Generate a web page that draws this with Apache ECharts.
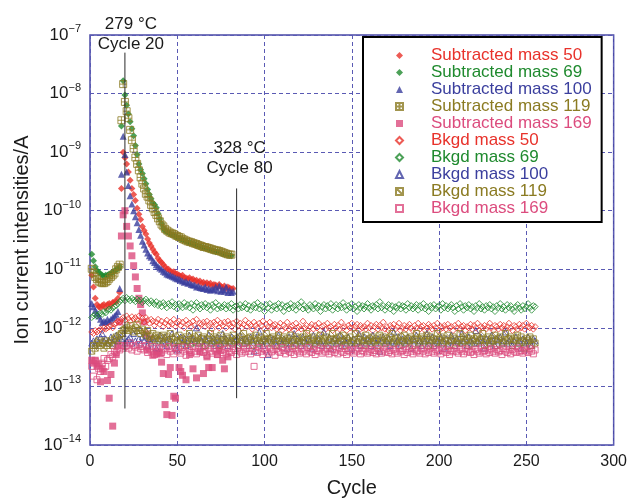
<!DOCTYPE html>
<html><head><meta charset="utf-8">
<script src="https://cdn.jsdelivr.net/npm/echarts@6/dist/echarts.min.js"></script>
<style>html,body{margin:0;padding:0;background:#fff}#c{width:630px;height:503px}</style>
</head><body><div id="c"></div>
<script>
// ---------- DATA ----------
const xTicks = [0, 50, 100, 150, 200, 250, 300];
const yDecades = [-14, -13, -12, -11, -10, -9, -8, -7];
const seriesNames = ['Subtracted mass 50','Subtracted mass 69','Subtracted mass 100','Subtracted mass 119','Subtracted mass 169',
  'Bkgd mass 50','Bkgd mass 69','Bkgd mass 100','Bkgd mass 119','Bkgd mass 169'];
const subFirstCycle = 1;   // subtracted series: cycle of first value (A)
const bkgdFirstCycle = 1;  // background series: cycle of first value (pA)

const sub50 = [7.9e-12,5.0e-12,3.2e-12,2.5e-12,2.3e-12,2.2e-12,2.4e-12,2.5e-12,2.2e-12,2.5e-12,
 2.6e-12,2.4e-12,2.7e-12,2.8e-12,2.8e-12,3.2e-12,4.0e-12,2.4e-10,1.0e-9,8.0e-10,
 6.3e-10,4.6e-10,3.3e-10,2.4e-10,1.9e-10,1.5e-10,1.1e-10,8.7e-11,7.1e-11,5.4e-11,
 4.6e-11,4.0e-11,3.3e-11,2.8e-11,2.5e-11,2.2e-11,1.95e-11,1.8e-11,1.55e-11,1.4e-11,
 1.3e-11,1.2e-11,1.1e-11,1.0e-11,1.0e-11,9.3e-12,8.9e-12,9.1e-12,8.3e-12,8.3e-12,
 7.9e-12,7.6e-12,7.9e-12,7.2e-12,7.1e-12,6.9e-12,7.2e-12,6.6e-12,6.8e-12,6.3e-12,
 6.5e-12,6.0e-12,6.3e-12,5.8e-12,6.0e-12,5.6e-12,5.9e-12,5.5e-12,5.8e-12,5.2e-12,
 5.5e-12,5.4e-12,5.0e-12,5.5e-12,5.1e-12,4.9e-12,5.2e-12,4.7e-12,5.0e-12,4.8e-12,
 4.6e-12,4.7e-12];
const sub69 = [1.8e-11,1.4e-11,1.1e-11,9.5e-12,8.9e-12,8.3e-12,7.9e-12,7.6e-12,7.9e-12,7.9e-12,
 8.3e-12,8.5e-12,8.9e-12,9.3e-12,1.0e-11,1.02e-11,1.1e-11,2.8e-9,1.66e-8,9.5e-9,
 6.3e-9,4.5e-9,3.3e-9,2.5e-9,1.9e-9,1.3e-9,9.1e-10,6.3e-10,5.0e-10,4.3e-10,
 3.5e-10,2.9e-10,2.3e-10,1.9e-10,1.6e-10,1.35e-10,1.26e-10,1.12e-10,8.9e-11,7.2e-11,
 6.0e-11,5.0e-11,4.5e-11,4.4e-11,4.2e-11,4.0e-11,3.9e-11,3.8e-11,3.6e-11,3.5e-11,
 3.4e-11,3.3e-11,3.2e-11,3.1e-11,3.0e-11,2.9e-11,2.85e-11,2.8e-11,2.7e-11,2.65e-11,
 2.6e-11,2.5e-11,2.45e-11,2.4e-11,2.3e-11,2.3e-11,2.25e-11,2.2e-11,2.15e-11,2.1e-11,
 2.05e-11,2.0e-11,2.0e-11,1.95e-11,1.9e-11,1.85e-11,1.8e-11,1.78e-11,1.74e-11,1.72e-11,1.7e-11];
const sub100 = [2.6e-12,2.3e-12,2.0e-12,1.8e-12,1.6e-12,1.4e-12,1.23e-12,1.3e-12,1.26e-12,1.4e-12,
 1.3e-12,1.4e-12,1.5e-12,1.6e-12,1.7e-12,1.9e-12,4.7e-12,4.2e-10,1.86e-9,9.1e-10,
 4.6e-10,2.7e-10,1.8e-10,1.3e-10,1.0e-10,7.9e-11,6.2e-11,4.8e-11,3.8e-11,3.0e-11,
 2.6e-11,2.2e-11,1.9e-11,1.7e-11,1.6e-11,1.4e-11,1.3e-11,1.2e-11,1.12e-11,1.05e-11,
 1.0e-11,9.3e-12,8.9e-12,8.3e-12,8.1e-12,7.9e-12,7.6e-12,7.4e-12,7.1e-12,6.9e-12,
 6.8e-12,6.5e-12,6.3e-12,6.0e-12,6.2e-12,5.8e-12,5.9e-12,5.5e-12,5.4e-12,5.4e-12,
 5.0e-12,5.2e-12,4.9e-12,4.8e-12,4.7e-12,5.0e-12,4.5e-12,4.7e-12,4.4e-12,4.6e-12,
 4.5e-12,5.0e-12,4.3e-12,5.2e-12,4.2e-12,4.5e-12,4.2e-12,5.0e-12,4.0e-12,4.4e-12,
 4.0e-12,4.2e-12];
const sub119 = [1.02e-11,8.7e-12,7.4e-12,6.8e-12,6.2e-12,6.0e-12,5.8e-12,5.8e-12,6.0e-12,6.3e-12,
 6.9e-12,7.4e-12,7.9e-12,8.5e-12,1.0e-11,1.1e-11,1.2e-11,3.5e-9,1.45e-8,7.2e-9,
 5.0e-9,3.8e-9,2.4e-9,1.6e-9,1.15e-9,8.1e-10,6.3e-10,4.9e-10,3.7e-10,2.9e-10,
 2.4e-10,1.95e-10,1.74e-10,1.5e-10,1.26e-10,1.1e-10,9.5e-11,8.5e-11,7.4e-11,6.6e-11,
 5.8e-11,5.4e-11,4.9e-11,4.6e-11,4.4e-11,4.2e-11,4.1e-11,4.0e-11,3.8e-11,3.7e-11,
 3.55e-11,3.5e-11,3.3e-11,3.2e-11,3.1e-11,3.0e-11,2.95e-11,2.9e-11,2.8e-11,2.75e-11,
 2.7e-11,2.6e-11,2.55e-11,2.5e-11,2.4e-11,2.4e-11,2.35e-11,2.3e-11,2.25e-11,2.2e-11,
 2.15e-11,2.1e-11,2.1e-11,2.05e-11,2.0e-11,1.95e-11,1.9e-11,1.85e-11,1.8e-11,1.78e-11,1.78e-11];
const sub169 = [2.8e-13,2.5e-13,2.8e-13,2.2e-13,2.4e-13,1.2e-13,2.0e-13,1.8e-13,null,1.26e-13,
 6.3e-14,1.6e-13,2.1e-14,2.5e-13,3.5e-13,5.0e-13,1.26e-12,3.7e-11,8.5e-11,1.0e-10,
 5.4e-11,3.7e-11,2.5e-11,1.7e-11,1.15e-11,7.4e-12,4.7e-12,3.2e-12,2.5e-12,1.8e-12,
 1.26e-12,7.9e-13,4.2e-13,6.5e-13,null,3.4e-13,null,3.6e-13,3.9e-13,3.6e-13,
 2.6e-13,1.66e-13,4.9e-14,3.3e-14,1.6e-13,2.1e-13,3.2e-14,6.8e-14,6.3e-14,null,
 2.1e-13,1.8e-13,1.55e-13,null,1.3e-13,null,3.5e-13,null,2.0e-13,null,
 1.4e-13,null,3.9e-13,null,1.66e-13,null,3.2e-13,2.1e-13,null,2.1e-13,
 null,null,3.5e-13,4.2e-13,null,2.8e-13,2.0e-13,null,3.2e-13,null];

// background series in pA (1e-12 A)
const bkgd50 = [0.85,0.8,0.9,0.85,0.9,0.95,0.9,1.0,0.95,1.0,1.05,1.1,1.0,1.15,1.2,
 1.3,1.25,1.4,1.5,1.35,1.6,1.45,1.3,1.55,1.4,1.5,1.35,1.6,1.3,1.45,1.25,1.5,1.35,1.2,1.4,
 1.3,1.1,1.25,1.4,1.15,1.3,1.05,1.2,1.35,1.1, 1.25,1.15,1.4,1.05,1.2,1.3,1.1,1.25,1.0,1.35,
 1.15,1.2,1.05,1.3,1.1,1.4,1.0,1.2,1.15,1.25, 1.05,1.3,1.1,1.2,0.95,1.25,1.15,1.35,1.0,1.2,
 1.1,1.25,1.0,1.3,1.15,1.05,1.2,0.95,1.3,1.1, 1.2,1.0,1.15,1.35,1.05,1.2,1.1,0.95,1.25,1.1,
 1.0,1.2,1.1,1.3,0.95,1.15,1.05,1.25,1.0,1.1, 1.15,0.95,1.05,1.2,0.9,1.1,1.0,1.25,0.95,1.05,
 1.1,0.9,1.2,1.0,1.05,0.95,1.3,1.0,1.1,0.9, 1.05,1.15,0.95,1.1,1.0,1.2,0.9,1.05,1.1,0.95,
 1.2,1.0,1.05,0.9,1.15,1.0,1.1,0.95,1.25,1.0, 1.05,0.9,1.1,1.0,1.2,0.95,1.05,1.15,0.9,1.1,
 1.0,1.05,0.95,1.2,1.0,1.1,0.9,1.05,1.15,0.95, 1.1,1.0,1.25,0.95,1.05,0.9,1.1,1.0,1.15,0.95,
 1.05,1.2,0.9,1.0,1.1,0.95,1.05,1.15,1.0,0.9, 1.1,1.0,1.2,0.95,1.05,1.1,0.9,1.0,1.15,1.05,
 0.95,1.1,1.0,1.2,0.9,1.05,1.0,1.1,0.95,1.15, 1.0,1.05,0.9,1.1,1.0,1.2,0.95,1.05,1.1,0.9,
 1.05,1.0,1.15,0.95,1.1,1.0,1.2,0.9,1.05,1.0, 1.1,0.95,1.05,1.2,1.0,0.9,1.1,1.05,0.95,1.15,
 1.0,1.1,0.95,1.05,1.2,1.0,0.9,1.1,1.05,0.95, 1.15,1.0,1.1,0.95,1.2,1.05,1.0,1.1,0.95,1.05];
const bkgd69 = [1.5,1.6,1.7,1.6,1.7,1.8,1.7,1.9,1.8,2.0,2.1,2.0,2.2,2.3,2.4,2.6,2.8,
 3.0,3.2,2.9,3.3,3.1,2.9,3.2,3.0,2.8,3.1,2.9,3.0,2.7,2.9,3.1,2.8,2.6,2.9,
 2.7,2.5,2.8,2.4,2.6,2.3,2.7,2.5,2.2,2.6, 2.4,2.8,2.3,2.5,2.1,2.6,2.4,2.2,2.7,2.3,
 2.5,2.2,2.6,2.0,2.4,2.7,2.3,2.1,2.5,2.3, 2.6,2.2,2.4,2.0,2.5,2.3,2.7,2.1,2.4,2.2,
 2.3,2.5,2.1,2.4,2.2,2.6,2.0,2.3,2.4,2.1, 2.5,2.2,2.3,2.6,2.1,2.4,2.0,2.3,2.5,2.2,
 2.7,2.1,2.4,2.3,1.9,2.5,2.2,2.6,2.0,2.3, 2.4,2.1,2.6,2.2,2.5,1.9,2.3,2.4,2.1,2.6,
 2.2,2.4,2.0,2.5,2.3,2.8,2.1,2.4,2.2,2.0, 2.5,2.3,2.1,2.6,2.2,2.4,1.9,2.3,2.5,2.1,
 2.4,2.2,2.6,2.0,2.3,2.5,2.1,2.4,2.2,2.7, 2.3,2.0,2.4,2.2,2.6,2.1,2.3,1.9,2.5,2.2,
 2.4,2.1,2.3,2.6,2.2,2.0,2.4,2.3,2.5,2.1, 2.8,2.2,2.4,2.0,2.3,2.5,2.1,2.4,1.9,2.3,
 2.2,2.5,2.1,2.4,2.3,2.0,2.6,2.2,2.4,2.1, 2.3,2.5,2.0,2.4,2.2,2.6,2.1,2.3,1.9,2.4,
 2.2,2.5,2.1,2.3,2.4,2.0,2.6,2.2,2.4,2.1, 2.3,2.5,2.2,1.9,2.4,2.1,2.6,2.3,2.0,2.4,
 2.2,2.5,2.1,2.3,1.9,2.4,2.2,2.6,2.1,2.3, 2.0,2.4,2.2,2.5,2.1,2.3,1.9,2.4,2.2,2.6,
 2.1,2.3,2.0,2.5,2.2,2.4,2.1,1.9,2.3,2.5, 2.2,2.0,2.4,2.1,2.3,2.6,2.2,2.0,2.4,2.3];
const bkgd100 = [0.55,0.6,0.5,0.65,0.55,0.7,0.8,0.6,0.65,0.55, 0.6,0.7,0.55,0.65,0.75,0.6,0.7,0.65,0.8,0.55,
 0.6,0.65,0.7,0.55,0.8,0.6,0.9,0.65,0.55,0.7, 0.6,0.75,0.5,0.65,0.55,0.7,0.6,0.45,0.65,0.75,
 0.55,0.6,0.7,0.5,0.65,0.6,0.8,0.55,0.45,0.42, 0.6,0.7,0.55,0.65,0.5,0.6,0.75,0.55,0.65,0.6,
 1.0,0.55,0.7,0.6,0.5,0.65,0.6,0.75,0.55,0.6, 0.65,0.5,0.7,0.6,0.55,0.8,0.6,0.65,0.5,0.6,
 0.7,0.55,0.6,0.65,0.5,0.75,0.6,0.55,0.65,0.6, 0.5,0.7,0.6,0.4,0.65,0.55,0.85,0.6,0.5,0.65,
 0.6,0.35,0.7,0.55,0.65,0.6,0.5,0.75,0.6,0.55, 0.65,0.6,0.45,0.7,0.55,0.6,0.8,0.55,0.65,0.6,
 0.5,0.7,0.6,0.55,0.65,0.6,0.45,0.75,0.55,0.6, 0.65,0.6,0.5,0.85,0.55,0.6,0.7,0.45,0.6,0.65,
 0.55,0.6,0.75,0.5,0.65,0.6,0.55,0.7,0.6,0.45, 0.65,0.55,0.6,0.8,0.5,0.6,0.7,0.55,0.65,0.6,
 0.5,0.75,0.6,0.55,0.65,0.4,0.6,0.7,0.55,0.6, 0.65,0.5,0.6,0.85,0.55,0.6,0.7,0.5,0.65,0.6,
 0.55,0.7,0.6,0.45,0.65,0.6,0.75,0.55,0.6,0.5, 0.65,0.6,0.8,0.55,0.6,0.7,0.5,0.65,0.6,0.55,
 0.7,0.6,0.45,0.65,0.55,0.6,0.75,0.6,0.5,0.65, 0.6,0.55,0.8,0.6,0.65,0.5,0.7,0.6,0.55,0.65,
 0.9,0.6,0.55,0.7,0.6,0.45,0.65,0.6,0.55,0.75, 0.6,0.5,0.65,0.6,0.7,0.55,0.6,0.85,0.55,0.6,
 0.65,0.5,0.6,0.7,0.55,0.6,0.45,0.65,0.6,0.55, 0.7,0.6,0.5,0.65,0.6];
const bkgd119 = [0.4,0.5,0.45,0.55,0.6,0.5,0.55,0.45,0.6,0.5, 0.55,0.6,0.5,0.65,0.7,0.6,0.75,0.8,0.9,0.95,
 1.0,0.9,1.1,0.95,0.85,1.0,1.15,0.9,0.8,0.95, 0.85,0.75,0.9,0.7,0.6,0.8,0.65,0.75,0.6,0.7,
 0.65,0.75,0.55,0.7,0.6,0.8,0.65,0.55,0.7,0.6, 0.75,0.6,0.65,0.5,0.7,0.6,0.8,0.55,0.65,0.7,
 0.6,0.75,0.55,0.65,0.7,0.5,0.65,0.6,0.8,0.55, 0.7,0.6,0.65,0.5,0.75,0.6,0.55,0.7,0.65,0.6,
 0.55,0.75,0.6,0.65,0.5,0.7,0.6,0.8,0.55,0.65, 0.6,0.7,0.5,0.65,0.75,0.6,0.55,0.7,0.6,0.65,
 0.8,0.55,0.65,0.6,0.7,0.5,0.65,0.75,0.6,0.55, 0.7,0.6,0.65,0.55,0.75,0.6,0.5,0.7,0.65,0.6,
 0.55,0.7,0.6,0.8,0.65,0.5,0.6,0.7,0.55,0.65, 0.6,0.75,0.55,0.65,0.7,0.6,0.5,0.65,0.8,0.6,
 0.65,0.55,0.7,0.6,0.75,0.5,0.65,0.6,0.7,0.55, 0.6,0.8,0.55,0.65,0.7,0.6,0.5,0.75,0.6,0.65,
 0.55,0.7,0.6,0.65,0.5,0.75,0.6,0.7,0.55,0.65, 0.6,0.7,0.8,0.55,0.65,0.6,0.5,0.7,0.6,0.75,
 0.55,0.65,0.6,0.7,0.5,0.65,0.8,0.6,0.55,0.7, 0.65,0.6,0.75,0.5,0.7,0.6,0.65,0.55,0.8,0.6,
 0.7,0.55,0.65,0.6,0.75,0.5,0.6,0.7,0.65,0.55, 0.6,0.8,0.55,0.7,0.6,0.65,0.5,0.75,0.6,0.65,
 0.55,0.7,0.6,0.65,0.8,0.5,0.6,0.7,0.55,0.65, 0.6,0.75,0.5,0.65,0.7,0.6,0.55,0.8,0.6,0.65,
 0.7,0.5,0.65,0.6,0.75,0.55,0.7,0.6,0.45,0.65, 0.6,0.7,0.5,0.65,0.55];
const bkgd169 = [0.22,0.15,0.27,0.13,0.2,0.18,0.25,0.3,0.22,0.28, 0.3,0.35,0.32,0.4,0.38,0.45,0.42,0.5,0.45,0.48,
 0.5,0.45,0.55,0.42,0.5,0.47,0.4,0.52,0.44,0.48, 0.42,0.5,0.38,0.45,0.4,0.48,0.35,0.44,0.4,0.46,
 0.38,0.45,0.42,0.35,0.48,0.4,0.44,0.36,0.46,0.4, 0.43,0.37,0.47,0.4,0.34,0.45,0.41,0.38,0.48,0.4,
 0.36,0.44,0.4,0.47,0.38,0.42,0.34,0.45,0.4,0.37, 0.44,0.4,0.35,0.46,0.41,0.38,0.43,0.36,0.45,0.4,
 0.38,0.44,0.41,0.35,0.47,0.4,0.37,0.43,0.39,0.45, 0.4,0.36,0.44,0.22,0.41,0.38,0.46,0.4,0.35,0.43,
 0.4,0.37,0.45,0.39,0.42,0.34,0.44,0.4,0.38,0.46, 0.41,0.36,0.43,0.4,0.38,0.45,0.35,0.42,0.4,0.37,
 0.44,0.39,0.42,0.36,0.46,0.4,0.38,0.43,0.35,0.41, 0.4,0.45,0.37,0.42,0.39,0.44,0.36,0.4,0.43,0.38,
 0.42,0.36,0.45,0.4,0.38,0.44,0.35,0.41,0.39,0.43, 0.37,0.42,0.4,0.45,0.36,0.41,0.39,0.44,0.37,0.4,
 0.43,0.38,0.41,0.36,0.44,0.4,0.37,0.42,0.39,0.45, 0.38,0.41,0.36,0.43,0.4,0.37,0.44,0.39,0.41,0.35,
 0.42,0.38,0.45,0.4,0.36,0.43,0.39,0.41,0.37,0.44, 0.4,0.36,0.42,0.38,0.45,0.4,0.37,0.43,0.39,0.41,
 0.36,0.44,0.4,0.38,0.42,0.35,0.41,0.39,0.45,0.4, 0.37,0.43,0.4,0.36,0.44,0.39,0.42,0.38,0.4,0.35,
 0.43,0.4,0.37,0.45,0.39,0.41,0.36,0.42,0.38,0.44, 0.4,0.37,0.43,0.39,0.41,0.35,0.44,0.4,0.38,0.42,
 0.36,0.43,0.4,0.38,0.45,0.39,0.41,0.37,0.42,0.4, 0.38,0.44,0.4,0.36,0.42];

// annotation lines (cycle, bottom/top current) and labels
const markCycles = [20, 84];
const markBottom = [4.2e-14, 6.3e-14];
const markTop = [5e-8, 2.4e-10];
const markLabels = ['279 °C\nCycle 20', '328 °C\nCycle 80'];

// ---------- STYLE ----------
const FONT = '"Liberation Sans", Arial, Helvetica, sans-serif';
const colors = {red:'#e8322b', green:'#1f8a2e', blue:'#3b3f9e', olive:'#8b7b22', pink:'#dc4c7e'};
const SQ_CROSS = 'path://M0,0L10,0L10,10L0,10Z M5,0L5,10 M0,5L10,5';
const SQ_DIAG = 'path://M0,0L10,0L10,10L0,10Z M0,0L10,10';

function toPairs(first, vals, scale) {
  const out = [];
  vals.forEach((v, i) => { if (v != null) out.push([first + i, v * scale]); });
  return out;
}
function filled(name, data, color, symbol, size) {
  return {name, type:'scatter', data, symbol, symbolSize:size,
    itemStyle:{color, borderColor:color, borderWidth:0}, z:2};
}
function hollow(name, data, color, symbol, size) {
  return {name, type:'scatter', data, symbol, symbolSize:size,
    itemStyle:{color:'rgba(255,255,255,0)', borderColor:color, borderWidth:1}, z:3};
}

const series = [
  filled(seriesNames[0], toPairs(subFirstCycle, sub50, 1), colors.red, 'diamond', 7),
  filled(seriesNames[1], toPairs(subFirstCycle, sub69, 1), colors.green, 'diamond', 7),
  filled(seriesNames[2], toPairs(subFirstCycle, sub100, 1), colors.blue, 'triangle', 7),
  hollow(seriesNames[3], toPairs(subFirstCycle, sub119, 1), colors.olive, SQ_CROSS, 7),
  filled(seriesNames[4], toPairs(subFirstCycle, sub169, 1), colors.pink, 'rect', 7),
  hollow(seriesNames[5], toPairs(bkgdFirstCycle, bkgd50, 1e-12), colors.red, 'diamond', 6),
  hollow(seriesNames[6], toPairs(bkgdFirstCycle, bkgd69, 1e-12), colors.green, 'diamond', 6),
  hollow(seriesNames[7], toPairs(bkgdFirstCycle, bkgd100, 1e-12), colors.blue, 'triangle', 6),
  hollow(seriesNames[8], toPairs(bkgdFirstCycle, bkgd119, 1e-12), colors.olive, SQ_DIAG, 6),
  hollow(seriesNames[9], toPairs(bkgdFirstCycle, bkgd169, 1e-12), colors.pink, 'rect', 6)
];

const labelDist = [0, 10];
const labelOffset = [[6, 2], [3, 0]];
markCycles.forEach((c, i) => {
  series.push({
    type:'line', silent:true, symbol:'circle', symbolSize:0.01, showSymbol:true, z:10,
    itemStyle:{color:'rgba(0,0,0,0)'},
    lineStyle:{color:'#2a2a2a', width:1},
    data:[ {value:[c, markBottom[i]], label:{show:false}},
      {value:[c, markTop[i]], label:{show:true, position:'top', distance:labelDist[i], offset:labelOffset[i],
        formatter:markLabels[i], fontSize:17, lineHeight:20, color:'#1a1a1a', fontFamily:FONT}} ]
  });
});

const legendColors = [colors.red, colors.green, colors.blue, colors.olive, colors.pink,
  colors.red, colors.green, colors.blue, colors.olive, colors.pink];

const option = {
  animation:false,
  backgroundColor:'#fff',
  grid:{left:90, right:15, top:35, bottom:50, show:true, borderColor:'#4a4aa6', borderWidth:1.5, backgroundColor:'transparent'},
  legend:{
    orient:'vertical', left:363, top:37, padding:[10,10,5,32],
    itemWidth:7, itemHeight:7, itemGap:0,
    borderColor:'#000', borderWidth:2, backgroundColor:'#fff',
    textStyle:{fontSize:17, lineHeight:16.5, fontFamily:FONT, padding:[0,0,0,23]},
    data: seriesNames.map((n, i) => ({name:n, textStyle:{color:legendColors[i]}}))
  },
  xAxis:{
    type:'value', min:xTicks[0], max:xTicks[xTicks.length-1], interval:50,
    name:'Cycle', nameLocation:'middle', nameGap:33,
    nameTextStyle:{fontSize:20, color:'#1a1a1a', fontFamily:FONT},
    axisLine:{show:false}, axisTick:{show:false},
    axisLabel:{fontSize:16, color:'#1a1a1a', fontFamily:FONT, margin:9},
    splitLine:{show:true, lineStyle:{color:'#5a5ab4', type:[4,3], width:1}}
  },
  yAxis:{
    type:'log', logBase:10, min:Math.pow(10, yDecades[0]), max:Math.pow(10, yDecades[yDecades.length-1]),
    name:'Ion current intensities/A', nameLocation:'middle', nameGap:57,
    nameTextStyle:{fontSize:20, color:'#1a1a1a', fontFamily:FONT},
    axisLine:{show:false}, axisTick:{show:false},
    axisLabel:{
      margin:9, fontFamily:FONT,
      formatter:(v) => { const e = Math.round(Math.log10(v)); return '{b|10}{e|\u2212' + Math.abs(e) + '}'; },
      rich:{ b:{fontSize:17, color:'#1a1a1a', fontFamily:FONT}, e:{fontSize:11, color:'#1a1a1a', fontFamily:FONT, padding:[0,0,12,0]} }
    },
    splitLine:{show:true, lineStyle:{color:'#5a5ab4', type:[4,3], width:1}}
  },
  series
};

const chart = echarts.init(document.getElementById('c'), null, {renderer:'canvas'});
chart.setOption(option);
</script>
</body></html>
